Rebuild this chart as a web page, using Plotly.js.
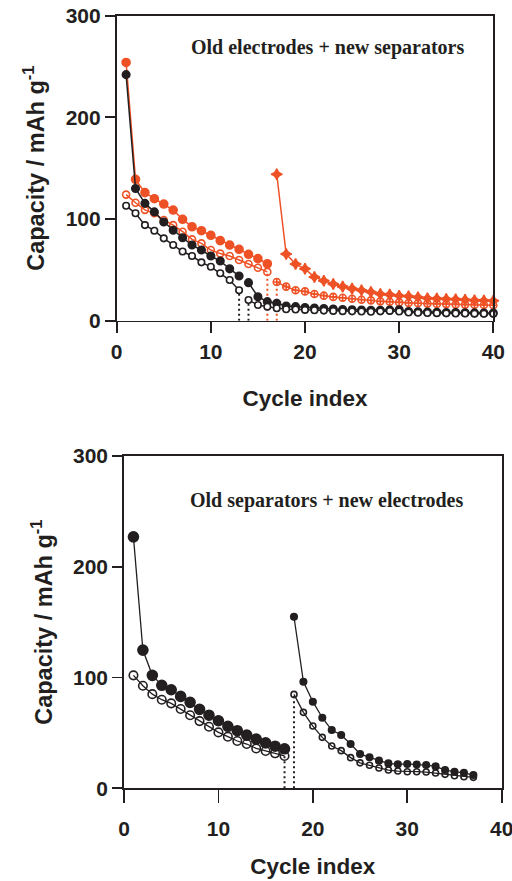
<!DOCTYPE html>
<html>
<head>
<meta charset="utf-8">
<script src="https://cdn.plot.ly/plotly-3.0.1.min.js"></script>
<style>
  html, body { margin: 0; padding: 0; background: #ffffff; }
  #chart { width: 512px; height: 881px; }
</style>
</head>
<body>
<div id="chart"></div>
<script>
// ---- Top panel: old electrodes + new separators ----
// first run (orange cell, cycles 1-16; black cell, cycles 1-13)
const topOrangeCycA = [1,2,3,4,5,6,7,8,9,10,11,12,13,14,15,16];
const topOrangeFilledA = [254,139,126,120,114.7,108.8,99.7,92.4,88.5,84,78.7,74.4,70.2,65.3,61,56];
const topOrangeOpenA = [124,116,109,105.6,99,94,87.5,80,76,69.5,66,63.6,59.7,55.8,52,48];
const topBlackCycA = [1,2,3,4,5,6,7,8,9,10,11,12,13];
const topBlackFilledA = [242,130,115.4,107,97,89,81.6,74.4,69.5,63.6,58.7,51,44];
const topBlackOpenA = [113,105.6,94,88.5,81,74.4,68,63.6,57.4,53,46.6,40,30];
// second run after reassembly (orange from cycle 17, black from cycle 14)
const topOrangeCycB = [17,18,19,20,21,22,23,24,25,26,27,28,29,30,31,32,33,34,35,36,37,38,39,40];
const topOrangeFilledB = [144,65.6,55.7,51,43,39.3,36,33.5,31.5,30,28.2,26.3,25.6,24.6,24,23,22,21.7,21.4,21,20.5,20,19.8,19.6];
const topOrangeOpenB = [38,33.5,30,28.8,26.3,24.6,23.4,22.5,21.5,20.6,20,19,18.7,18,17.4,17.1,16.8,16.5,16.3,16,15.8,15.6,15.4,15.2];
const topBlackCycB = [14,15,16,17,18,19,20,21,22,23,24,25,26,27,28,29,30,31,32,33,34,35,36,37,38,39,40];
const topBlackFilledB = [37.4,23.6,18.7,17.1,14.5,13.8,13,12.5,12,11.5,11,10.8,10.5,10.3,10.2,10.5,10.8,9,8.8,8.5,8.3,8,8,7.8,7.7,7.6,7.5];
const topBlackOpenB = [20.3,15.4,13.8,12.2,11.3,11,10.6,10.2,9.9,9.6,9.4,9.2,9,8.8,9.2,9.6,9,8,7.8,7.6,7.4,7.2,7.1,7,6.9,6.8,6.7];

// ---- Bottom panel: old separators + new electrodes ----
const botCycA = [1,2,3,4,5,6,7,8,9,10,11,12,13,14,15,16,17];
const botFilledA = [227,124.8,102,93,89,83,77.6,71.3,66,61,56,52,48,44.5,41,38,35.7];
const botOpenA = [102,92.6,85,80,76.7,71.6,66,60.7,55.6,50.5,46.6,42.7,40,36,33.7,31.6,29.2];
const botCycB = [18,19,20,21,22,23,24,25,26,27,28,29,30,31,32,33,34,35,36,37];
const botFilledB = [154.9,96.2,78.2,63.7,52.6,48.1,40,31,28,25,22.5,21.7,22,21.4,21,19.8,16.5,15,14,12];
const botOpenB = [84.8,68.6,56.2,46,38.2,34,27.7,23,20.8,18.3,16.5,15.6,15,15,14.7,13.8,12.6,11.4,10.5,9.9];

// axis ticks and labels
const xTicks = [0,10,20,30,40];
const yTicks = [0,100,200,300];
const xLabel = 'Cycle index';
const yLabel = 'Capacity / mAh g<sup>-1</sup>';
const topNote = 'Old electrodes + new separators';
const botNote = 'Old separators + new electrodes';

const ORANGE = '#EE5125';
const BLACK = '#231F20';

function series(x, y, ax, color, symbol, size, fill, lineWidth) {
  return {
    x: x, y: y, xaxis: ax[0], yaxis: ax[1],
    type: 'scatter', mode: 'lines+markers',
    line: { color: color, width: lineWidth },
    marker: {
      symbol: symbol, size: size, color: fill,
      line: { color: color, width: 1.6 }
    },
    cliponaxis: false
  };
}

// vertical dotted drop from the last (or first) point of a run down to zero
function drop(cyc, vals, idx, ax, color) {
  const c = cyc[idx < 0 ? cyc.length + idx : idx];
  const v = vals[idx < 0 ? vals.length + idx : idx];
  return {
    x: [c, c], y: [0, v], xaxis: ax[0], yaxis: ax[1],
    type: 'scatter', mode: 'lines',
    line: { color: color, width: 2, dash: '2px,3px' }
  };
}

const T = ['x', 'y'];
const B = ['x2', 'y2'];

const traces = [
  // top panel
  drop(topOrangeCycA, topOrangeOpenA, -1, T, ORANGE),
  drop(topOrangeCycB, topOrangeOpenB, 0, T, ORANGE),
  drop(topBlackCycA, topBlackOpenA, -1, T, BLACK),
  drop(topBlackCycB, topBlackOpenB, 0, T, BLACK),
  series(topOrangeCycA, topOrangeFilledA, T, ORANGE, 'circle', 8, ORANGE, 1.5),
  series(topOrangeCycA, topOrangeOpenA, T, ORANGE, 'circle-open', 7, ORANGE, 1.5),
  series(topOrangeCycB, topOrangeFilledB, T, ORANGE, 'star-diamond', 8, ORANGE, 1.5),
  series(topOrangeCycB, topOrangeOpenB, T, ORANGE, 'circle-cross-open', 7, ORANGE, 1.5),
  series(topBlackCycA, topBlackFilledA, T, BLACK, 'circle', 7.5, BLACK, 1.5),
  series(topBlackCycA, topBlackOpenA, T, BLACK, 'circle', 6.5, '#ffffff', 1.5),
  series(topBlackCycB, topBlackFilledB, T, BLACK, 'circle', 7.5, BLACK, 1.5),
  series(topBlackCycB, topBlackOpenB, T, BLACK, 'circle', 6.5, '#ffffff', 1.5),
  // bottom panel
  drop(botCycA, botOpenA, -1, B, BLACK),
  drop(botCycB, botOpenB, 0, B, BLACK),
  series(botCycA, botFilledA, B, BLACK, 'circle', 10, BLACK, 1.3),
  series(botCycA, botOpenA, B, BLACK, 'circle-open', 8.5, BLACK, 1.3),
  series(botCycB, botFilledB, B, BLACK, 'circle', 6.5, BLACK, 1.3),
  series(botCycB, botOpenB, B, BLACK, 'circle-open', 6, BLACK, 1.3)
];

const tickFont = { family: 'Liberation Sans, Arial, sans-serif', size: 21, weight: 'bold', color: BLACK };
const xTitleFont = { family: 'Liberation Sans, Arial, sans-serif', size: 22.5, weight: 'bold', color: BLACK };
const yTitleFont = { family: 'Liberation Sans, Arial, sans-serif', size: 23.5, weight: 'bold', color: BLACK };

function xAxis(domain, anchor, tlen, labelGap, standoff) {
  return {
    domain: domain, anchor: anchor, range: [0, 40],
    tickmode: 'array', tickvals: xTicks,
    ticks: 'outside', ticklen: tlen, tickwidth: 1.8, tickcolor: BLACK,
    ticklabelstandoff: labelGap,
    showline: true, linewidth: 1.8, linecolor: BLACK, mirror: true,
    showgrid: false, zeroline: false, ticklabeloverflow: 'allow',
    tickfont: tickFont,
    title: { text: xLabel, font: xTitleFont, standoff: standoff }
  };
}
function yAxis(domain, anchor) {
  return {
    domain: domain, anchor: anchor, range: [0, 300],
    tickmode: 'array', tickvals: yTicks,
    ticks: 'outside', ticklen: 10, tickwidth: 1.8, tickcolor: BLACK,
    showline: true, linewidth: 1.8, linecolor: BLACK, mirror: true,
    showgrid: false, zeroline: false, ticklabeloverflow: 'allow',
    tickfont: tickFont,
    title: { text: yLabel, font: yTitleFont, standoff: 14 }
  };
}

const noteFont = { family: 'Liberation Serif, Times New Roman, serif', size: 20, weight: 'bold', color: BLACK };

const layout = {
  width: 512, height: 881,
  margin: { l: 0, r: 0, t: 0, b: 0 },
  paper_bgcolor: '#ffffff', plot_bgcolor: '#ffffff',
  showlegend: false, hovermode: false,
  xaxis: xAxis([0.2279, 0.9635], 'y', 11, 0, 28),
  yaxis: yAxis([0.636, 0.9822], 'x'),
  xaxis2: xAxis([0.2422, 0.9799], 'y2', 13, 8, 19),
  yaxis2: yAxis([0.1052, 0.4824], 'x2'),
  annotations: [
    { text: topNote, xref: 'x domain', yref: 'y domain', x: 0.561, y: 0.897,
      xanchor: 'center', yanchor: 'middle', showarrow: false, font: noteFont },
    { text: botNote, xref: 'x2 domain', yref: 'y2 domain', x: 0.536, y: 0.865,
      xanchor: 'center', yanchor: 'middle', showarrow: false, font: noteFont }
  ]
};

Plotly.newPlot('chart', traces, layout, { staticPlot: true, displayModeBar: false });
</script>
</body>
</html>
